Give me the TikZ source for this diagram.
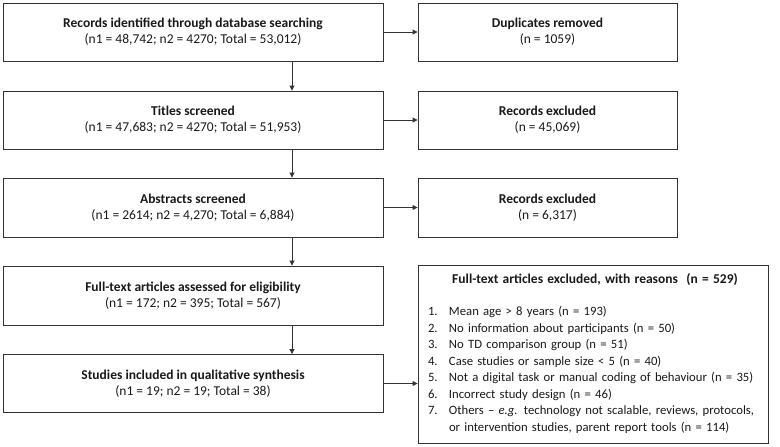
\documentclass[tikz,border=0pt]{standalone}
\usepackage{fontspec}
\setmainfont{Carlito}
\usetikzlibrary{arrows.meta}

\begin{document}
\begin{tikzpicture}[x=1pt,y=-1pt,
  box/.style={draw=black!80, line width=0.9pt, align=center, inner sep=0pt,
    font=\fontsize{13.5}{16}\selectfont, text=black!90},
  arr/.style={draw=black!80, line width=0.9pt, -{Triangle[length=5pt,width=5pt]}}]
\useasboundingbox (0,0) rectangle (780,447);
\node[box, minimum width=380pt, minimum height=58pt] (rec) at (193,32) {\textbf{Records identified through database searching}\\(n1 = 48,742; n2 = 4270; Total = 53,012)};
\node[box, minimum width=380pt, minimum height=58pt] (tit) at (193,120) {\textbf{Titles screened}\\(n1 = 47,683; n2 = 4270; Total = 51,953)};
\node[box, minimum width=380pt, minimum height=59pt] (abs) at (193,207.5) {\textbf{Abstracts screened}\\(n1 = 2614; n2 = 4,270; Total = 6,884)};
\node[box, minimum width=380pt, minimum height=59pt] (full) at (193,295.5) {\textbf{Full-text articles assessed for eligibility}\\(n1 = 172; n2 = 395; Total = 567)};
\node[box, minimum width=380pt, minimum height=58pt] (incl) at (193,383.5) {\textbf{Studies included in qualitative synthesis}\\(n1 = 19; n2 = 19; Total = 38)};
\node[box, minimum width=259pt, minimum height=58pt] (dup) at (547.5,32) {\textbf{Duplicates removed}\\(n = 1059)};
\node[box, minimum width=259pt, minimum height=58pt] (exc1) at (547.5,120) {\textbf{Records excluded}\\(n = 45,069)};
\node[box, minimum width=259pt, minimum height=59pt] (exc2) at (547.5,207.5) {\textbf{Records excluded}\\(n = 6,317)};
\node[box, minimum width=350pt, minimum height=178pt, text width=330pt, align=left,
  font=\fontsize{12.7}{16.5}\selectfont] (why) at (593,354) {%
  \begin{tabular}{@{}p{21pt}@{}l@{}}
  \multicolumn{2}{c}{\hspace{8pt}\fontsize{13.5}{16.5}\selectfont\textbf{Full-text articles excluded, with reasons\ \ (n = 529)}}\\[16pt]
  1. & Mean age > 8 years (n = 193)\\
  2. & No information about participants (n = 50)\\
  3. & No TD comparison group (n = 51)\\
  4. & Case studies or sample size < 5 (n = 40)\\
  5. & Not a digital task or manual coding of behaviour (n = 35)\\
  6. & Incorrect study design (n = 46)\\
  7. & Others -- \textit{e.g.} technology not scalable, reviews, protocols,\\
     & or intervention studies, parent report tools (n = 114)
  \end{tabular}};
\draw[arr] ([xshift=99pt]rec.south) -- ([xshift=99pt]tit.north);
\draw[arr] ([xshift=99pt]tit.south) -- ([xshift=99pt]abs.north);
\draw[arr] ([xshift=99pt]abs.south) -- ([xshift=99pt]full.north);
\draw[arr] ([xshift=99pt]full.south) -- ([xshift=99pt]incl.north);
\draw[arr] (rec.east) -- (dup.west);
\draw[arr] (tit.east) -- (exc1.west);
\draw[arr] (abs.east) -- (exc2.west);
\draw[arr] (incl.east) -- (incl.east -| why.west);
\end{tikzpicture}
\end{document}
